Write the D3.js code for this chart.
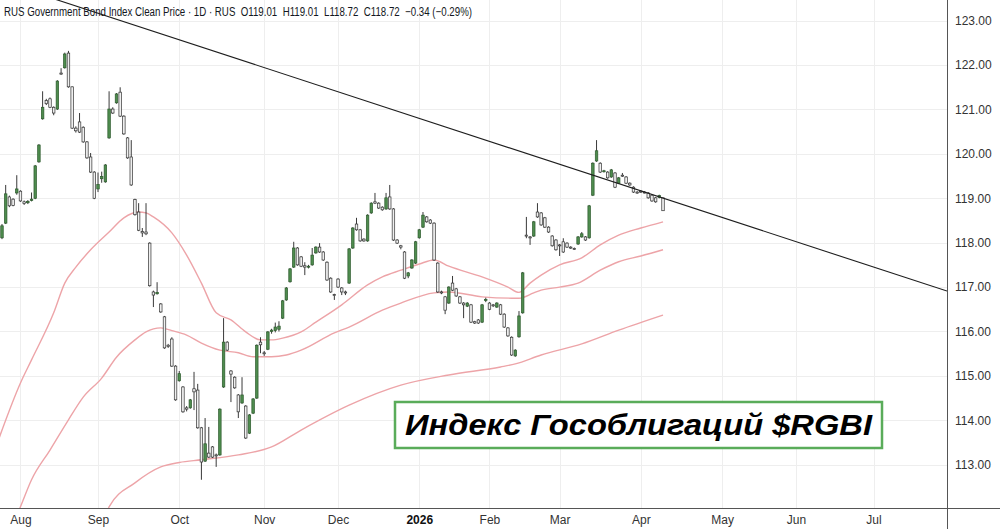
<!DOCTYPE html>
<html><head><meta charset="utf-8">
<script src="https://cdn.jsdelivr.net/npm/d3@7"></script>
<style>html,body{margin:0;padding:0;background:#fff;} svg{display:block;font-family:"Liberation Sans",Arial,sans-serif;}</style>
</head><body><svg id="c" width="1000" height="529"></svg>
<script>
// ---------- DATA ----------
const title = "RUS Government Bond Index Clean Price \u00b7 1D \u00b7 RUS  O119.01  H119.01  L118.72  C118.72  \u22120.34 (\u22120.29%)";
const boxLabel = "Индекс Гособлигаций $RGBI";
const priceTicks = [113,114,115,116,117,118,119,120,121,122,123];
const monthLabels = ["Aug","Sep","Oct","Nov","Dec","2026","Feb","Mar","Apr","May","Jun","Jul"];
const monthTickBars = [5,26,48,71,91,113,132,151,173,195,215,236];
// daily candles: [open, high, low, close], bar index = position in array
const ohlc = [
[118.11,118.42,118.08,118.38],[118.44,119.30,118.42,119.10],[119.03,119.06,118.80,118.83],[118.98,119.00,118.82,118.84],
[119.12,119.52,119.08,119.21],[119.16,119.18,118.92,118.94],[118.92,118.95,118.85,118.88],[118.90,118.96,118.87,118.93],
[118.95,119.13,118.93,118.98],[119.00,119.75,118.98,119.73],[119.82,120.22,119.80,120.20],[120.79,121.41,120.77,121.05],
[121.20,121.24,121.10,121.13],[121.24,121.27,121.03,121.05],[121.05,121.07,120.87,120.92],[121.01,121.66,120.99,121.64],
[121.82,121.93,121.78,121.80],[121.94,122.28,121.92,122.25],[122.27,122.32,121.49,121.51],[121.51,121.52,120.56,120.58],
[120.58,120.62,120.48,120.52],[120.72,120.92,120.47,120.49],[120.60,120.62,120.25,120.27],[120.27,120.29,119.89,119.91],
[119.93,120.02,119.57,119.59],[119.59,119.61,118.98,119.00],[119.21,119.58,119.14,119.31],[119.44,119.60,119.35,119.49],
[119.37,119.77,119.35,119.75],[120.36,121.41,120.34,121.01],[121.01,121.05,120.90,120.92],[121.15,121.37,121.13,121.35],
[121.39,121.50,120.83,120.85],[120.85,120.87,120.43,120.45],[120.36,120.38,119.89,119.91],[119.93,120.31,119.28,119.30],
[118.97,118.99,118.61,118.63],[118.69,118.89,118.26,118.28],[118.25,118.33,118.13,118.22],[118.24,118.89,118.17,118.20],
[117.99,118.01,117.01,117.03],[116.89,116.92,116.55,116.82],[116.85,117.11,116.83,116.88],[116.62,116.64,116.42,116.44],
[116.33,116.35,115.61,115.63],[115.69,115.72,115.63,115.66],[115.83,115.87,115.20,115.22],[115.22,115.24,114.44,114.46],
[114.89,115.11,114.87,115.05],[114.75,114.77,114.17,114.19],[114.28,114.32,114.20,114.25],[114.28,114.48,114.26,114.46],
[114.71,115.09,114.23,114.64],[114.68,114.82,113.81,113.83],[113.83,113.85,112.66,113.06],[113.08,114.05,113.06,113.47],
[113.26,113.85,113.15,113.17],[113.40,113.42,113.15,113.17],[113.22,113.25,112.95,113.20],[113.22,114.27,113.20,114.25],
[114.75,116.30,114.73,115.76],[115.76,115.78,115.56,115.58],[115.11,115.13,114.41,115.04],[114.97,114.99,114.71,114.73],
[114.57,114.59,114.05,114.19],[114.39,114.97,114.37,114.57],[114.32,114.34,113.58,113.60],[113.71,114.14,113.69,114.12],
[114.16,114.50,114.14,114.48],[114.50,115.71,114.48,115.69],[115.76,115.87,115.51,115.70],[115.52,115.56,115.45,115.51],
[115.60,116.01,115.58,115.99],[116.00,116.06,115.95,116.03],[116.02,116.20,115.98,116.10],[116.05,116.23,116.00,116.12],
[116.30,116.71,116.28,116.69],[116.71,117.00,116.69,116.98],[117.12,117.43,117.10,117.41],[117.45,118.02,117.43,117.88],
[117.88,117.90,117.48,117.50],[117.68,117.70,117.45,117.47],[117.48,117.56,117.27,117.45],[117.45,117.50,117.42,117.47],
[117.50,117.88,117.48,117.72],[117.77,117.92,117.75,117.90],[117.90,117.99,117.77,117.79],[117.79,117.81,117.59,117.61],
[117.56,117.58,117.14,117.16],[117.20,117.22,116.87,116.89],[116.83,116.85,116.71,116.82],[117.18,117.20,116.98,117.00],
[116.98,117.00,116.82,116.89],[116.89,116.92,116.82,116.87],[117.09,117.88,117.07,117.86],[117.88,118.35,117.86,118.33],
[118.42,118.56,118.27,118.29],[118.29,118.31,118.02,118.04],[118.08,118.10,118.02,118.04],[118.04,118.64,118.02,118.62],
[118.67,118.91,118.65,118.89],[118.92,119.12,118.87,118.89],[118.89,118.91,118.76,118.78],[118.80,118.82,118.72,118.74],
[118.76,119.12,118.74,119.01],[119.03,119.30,118.74,118.76],[118.76,118.78,118.04,118.06],[118.06,118.08,117.97,117.99],
[117.93,117.95,117.85,117.90],[117.79,117.81,117.18,117.20],[117.25,117.34,117.20,117.32],[117.43,117.63,117.41,117.61],
[117.54,118.04,117.52,118.02],[118.11,118.31,118.09,118.29],[118.35,118.69,118.33,118.62],[118.58,118.60,118.45,118.47],
[118.51,118.53,118.42,118.44],[118.44,118.46,117.59,117.61],[117.54,117.56,116.87,116.89],[116.89,116.92,116.84,116.87],
[116.78,116.80,116.39,116.48],[116.64,117.02,116.62,117.00],[117.09,117.25,116.91,116.93],[116.96,116.98,116.78,116.80],
[116.78,116.80,116.62,116.64],[116.64,116.66,116.30,116.60],[116.57,116.66,116.55,116.64],[116.60,116.62,116.19,116.21],
[116.22,116.24,116.17,116.19],[116.26,116.28,116.17,116.19],[116.21,116.62,116.19,116.60],[116.70,116.76,116.66,116.72],
[116.64,116.66,116.48,116.50],[116.60,116.62,116.55,116.58],[116.55,116.66,116.53,116.64],[116.60,116.62,116.37,116.39],
[116.39,116.41,116.08,116.10],[116.08,116.10,115.88,115.90],[115.87,115.89,115.45,115.47],[115.45,115.60,115.43,115.58],
[115.88,116.46,115.86,116.35],[116.42,117.34,116.40,117.32],[118.17,118.58,118.10,118.15],[118.13,118.15,117.95,118.12],
[118.15,118.49,118.13,118.47],[118.69,118.89,118.56,118.58],[118.67,118.69,118.38,118.40],[118.56,118.58,118.33,118.35],
[118.35,118.37,118.22,118.24],[118.15,118.17,117.91,117.93],[118.06,118.08,117.82,117.84],[117.95,117.97,117.70,117.93],
[118.02,118.10,117.77,117.79],[117.99,118.01,117.88,117.90],[117.90,117.92,117.86,117.88],[117.87,117.89,117.84,117.86],
[117.97,118.15,117.95,118.13],[118.13,118.24,118.11,118.20],[118.13,118.15,118.04,118.06],[118.11,118.85,118.09,118.83],
[119.07,119.81,119.05,119.79],[119.84,120.31,119.82,120.07],[119.79,119.81,119.57,119.59],[119.60,119.64,119.58,119.62],
[119.59,119.61,119.44,119.46],[119.48,119.66,119.46,119.64],[119.57,119.59,119.23,119.25],[119.34,119.48,119.32,119.46],
[119.52,119.57,119.48,119.50],[119.48,119.50,119.32,119.34],[119.34,119.36,119.28,119.30],[119.25,119.27,119.12,119.14],
[119.14,119.16,119.10,119.12],[119.16,119.18,119.12,119.14],[119.14,119.16,119.11,119.13],[119.12,119.14,118.99,119.01],
[119.07,119.09,118.92,118.94],[119.01,119.03,118.90,118.92],[119.02,119.08,119.00,119.06],[119.01,119.01,118.72,118.72]
];
// moving averages: [bar, value]
const maFast = [[-1,113.55],[5,114.84],[8,115.36],[14,116.42],[17,117.09],[20,117.45],[24,117.84],[29,118.24],[33,118.56],[37,118.69],[39,118.67],[41,118.58],[46,118.22],[50,117.72],[54,117.09],[58,116.42],[62,116.26],[66,115.99],[70,115.81],[73,115.81],[76,115.85],[81,115.99],[85,116.21],[92,116.60],[99,117.05],[103,117.23],[108,117.38],[113,117.52],[117,117.61],[121,117.47],[130,117.23],[137,117.00],[140,116.88],[143,117.09],[146,117.27],[151,117.50],[157,117.66],[162,117.95],[167,118.17],[173,118.33],[179,118.47]];
const maMid = [[4,111.85],[5,112.05],[8,112.66],[13,113.33],[18,114.01],[22,114.52],[27,114.95],[31,115.42],[36,115.81],[39,115.99],[43,116.08],[46,116.02],[50,115.92],[54,115.74],[59,115.58],[64,115.52],[68,115.43],[73,115.43],[77,115.47],[81,115.58],[90,115.97],[94,116.10],[103,116.48],[108,116.64],[117,116.87],[121,116.89],[130,116.78],[138,116.75],[140,116.75],[144,116.87],[146,116.93],[151,117.00],[156,117.09],[162,117.38],[167,117.57],[173,117.70],[179,117.84]];
const maSlow = [[28,111.80],[29,112.05],[36,112.59],[43,112.95],[48,113.05],[54,113.11],[64,113.22],[73,113.40],[81,113.78],[94,114.34],[108,114.79],[121,115.02],[135,115.20],[139,115.27],[146,115.47],[157,115.72],[167,116.03],[179,116.37]];
const trendLine = [[-0.54,123.89],[255.9,116.91]];

// ---------- CHART ----------
const W = 1000, H = 529, plotR = 947, plotB = 508;
const svg = d3.select('#c');
const x = d3.scaleLinear().domain([-0.54, 255.9]).range([0, plotR]);
const y = d3.scaleLinear().domain([112.024, 123.466]).range([plotB, 0]);

svg.append('rect').attr('width', W).attr('height', H).attr('fill', '#fff');
svg.append('clipPath').attr('id', 'clip').append('rect').attr('x', 0).attr('y', 0).attr('width', plotR).attr('height', plotB);

// grid
const grid = svg.append('g').attr('stroke', '#eeeeee').attr('stroke-width', 1);
grid.selectAll('line.h').data(priceTicks).join('line').attr('class', 'h')
  .attr('x1', 0).attr('x2', plotR).attr('y1', d => Math.round(y(d)) + 0.5).attr('y2', d => Math.round(y(d)) + 0.5);
grid.selectAll('line.v').data(monthTickBars).join('line').attr('class', 'v')
  .attr('y1', 0).attr('y2', plotB).attr('x1', d => Math.round(x(d)) + 0.5).attr('x2', d => Math.round(x(d)) + 0.5);

// header
svg.append('text').attr('x', 4).attr('y', 15.5).attr('font-size', 12.3).attr('fill', '#131722')
  .style('white-space', 'pre').attr('textLength', 468).attr('lengthAdjust', 'spacingAndGlyphs').text(title);

const plot = svg.append('g').attr('clip-path', 'url(#clip)');

// moving averages
const line = d3.line().x(d => x(d[0])).y(d => y(d[1])).curve(d3.curveMonotoneX);
[maFast, maMid, maSlow].forEach(ma => {
  plot.append('path').datum(ma).attr('d', line).attr('fill', 'none')
    .attr('stroke', '#eda4a8').attr('stroke-width', 1.4);
});

// candles
const step = x(1) - x(0);
const bw = step * 0.68;
const cg = plot.append('g');
const c = cg.selectAll('g').data(ohlc).join('g');
c.append('line').attr('x1', (d, i) => x(i)).attr('x2', (d, i) => x(i))
  .attr('y1', d => y(d[1])).attr('y2', d => y(d[2])).attr('stroke', '#222').attr('stroke-width', 0.9);
c.append('rect')
  .attr('x', (d, i) => x(i) - bw / 2).attr('width', bw)
  .attr('y', d => y(Math.max(d[0], d[3])))
  .attr('height', d => Math.max(1, y(Math.min(d[0], d[3])) - y(Math.max(d[0], d[3]))))
  .attr('fill', d => d[3] >= d[0] ? '#4e8c4e' : '#efefef')
  .attr('stroke', d => d[3] >= d[0] ? '#2d5a2d' : '#333')
  .attr('stroke-width', 0.7);

// trend line
plot.append('line')
  .attr('x1', x(trendLine[0][0])).attr('y1', y(trendLine[0][1]))
  .attr('x2', x(trendLine[1][0])).attr('y2', y(trendLine[1][1]))
  .attr('stroke', '#1e1e1e').attr('stroke-width', 1.1);

// axis lines
svg.append('line').attr('x1', plotR + 0.5).attr('x2', plotR + 0.5).attr('y1', 0).attr('y2', H).attr('stroke', '#555');
svg.append('line').attr('x1', 0).attr('x2', W).attr('y1', plotB + 0.5).attr('y2', plotB + 0.5).attr('stroke', '#555');

// price axis
const yAxis = d3.axisRight(y).tickValues(priceTicks).tickFormat(d3.format('.2f')).tickSize(0).tickPadding(8);
const gy = svg.append('g').attr('transform', `translate(${plotR},0)`).call(yAxis);
gy.select('.domain').remove();
gy.selectAll('text').attr('font-size', 12).attr('fill', '#333').attr('font-family', '"Liberation Sans",Arial,sans-serif');

// time axis
const xAxis = d3.axisBottom(x).tickValues(monthTickBars).tickFormat((d, i) => monthLabels[i]).tickSize(0).tickPadding(7);
const gx = svg.append('g').attr('transform', `translate(0,${plotB})`).call(xAxis);
gx.select('.domain').remove();
gx.selectAll('text').attr('font-size', 12).attr('font-family', '"Liberation Sans",Arial,sans-serif')
  .attr('font-weight', (d, i) => monthLabels[i] === '2026' ? 'bold' : 'normal')
  .attr('fill', (d, i) => monthLabels[i] === '2026' ? '#111' : '#333');

// label box
svg.append('rect').attr('x', 395).attr('y', 402).attr('width', 487).attr('height', 46)
  .attr('fill', '#fff').attr('stroke', '#5aac5a').attr('stroke-width', 2.5);
svg.append('text').attr('x', 405).attr('y', 435).attr('font-size', 30).attr('font-weight', 'bold')
  .attr('font-style', 'italic').attr('fill', '#000')
  .attr('textLength', 467).attr('lengthAdjust', 'spacingAndGlyphs').text(boxLabel);
</script></body></html>
